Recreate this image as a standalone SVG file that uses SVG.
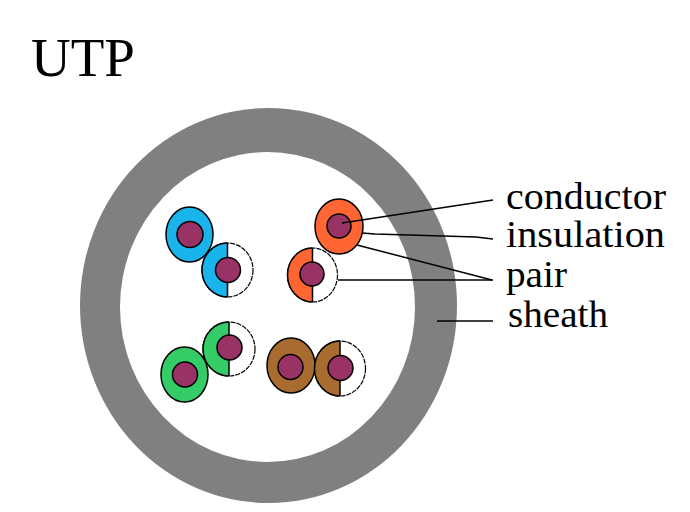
<svg xmlns="http://www.w3.org/2000/svg" width="690" height="512" viewBox="0 0 690 512">
  <style>
    .ins { stroke: #000; stroke-width: 1.5; }
    .white { fill: #fff; stroke: #000; stroke-width: 1.2; stroke-dasharray: 5 1; }
    .half { stroke: none; }
    .split { stroke: #000; stroke-width: 1.5; }
    .cond { fill: #993366; stroke: #000; stroke-width: 1.5; }
    .blue { fill: #1ab4ec; }
    .orange { fill: #ff6633; }
    .green { fill: #33cc66; }
    .brown { fill: #a86c30; }
    .lead { fill: none; stroke: #000; stroke-width: 1.5; }
    .lbl { font-family: "Liberation Serif", "Times New Roman", serif; font-size: 38px; fill: #000; }
  </style>
  <rect width="690" height="512" fill="#fff"/>
  <text class="lbl" x="31" y="76" style="font-size:55px">UTP</text>

  <g id="sheath">
    <ellipse cx="268.5" cy="305.5" rx="188.5" ry="197.5" fill="#808080"/>
    <ellipse cx="267.5" cy="307" rx="147.5" ry="155" fill="#fff"/>
  </g>

  <g id="blue-solid">
    <ellipse class="ins blue" cx="189.5" cy="234.5" rx="23.5" ry="27.5"/>
    <circle class="cond" cx="190" cy="234.5" r="13"/>
  </g>
  <g id="blue-striped">
    <ellipse class="white" cx="227.5" cy="270" rx="25.5" ry="27"/>
    <path class="half blue" d="M227.5,243 A25.5,27 0 0 0 227.5,297 Z"/>
    <path class="lead" d="M202,270 A25.5,27 0 0 1 227.5,243 M202,270 A25.5,27 0 0 0 227.5,297"/>
    <line class="split" x1="227.5" y1="243" x2="227.5" y2="297"/>
    <circle class="cond" cx="228" cy="270" r="12.5"/>
  </g>

  <g id="orange-solid">
    <ellipse class="ins orange" cx="339" cy="226.5" rx="24" ry="27.5"/>
    <circle class="cond" cx="339" cy="226" r="12"/>
  </g>
  <g id="orange-striped">
    <ellipse class="white" cx="312.5" cy="275" rx="25" ry="27"/>
    <path class="half orange" d="M312.5,248 A25,27 0 0 0 312.5,302 Z"/>
    <path class="lead" d="M287.5,275 A25,27 0 0 1 312.5,248 M287.5,275 A25,27 0 0 0 312.5,302"/>
    <line class="split" x1="312.5" y1="248" x2="312.5" y2="302"/>
    <circle class="cond" cx="312" cy="274" r="12"/>
  </g>

  <g id="green-striped">
    <ellipse class="white" cx="229" cy="349" rx="26" ry="27"/>
    <path class="half green" d="M229,322 A26,27 0 0 0 229,376 Z"/>
    <path class="lead" d="M203,349 A26,27 0 0 1 229,322 M203,349 A26,27 0 0 0 229,376"/>
    <line class="split" x1="229" y1="322" x2="229" y2="376"/>
    <circle class="cond" cx="229.5" cy="347.5" r="12.5"/>
  </g>
  <g id="green-solid">
    <ellipse class="ins green" cx="184.5" cy="374.5" rx="23.5" ry="27.5"/>
    <circle class="cond" cx="185" cy="374.5" r="12.5"/>
  </g>

  <g id="brown-solid">
    <ellipse class="ins brown" cx="291" cy="365.5" rx="24" ry="27.5"/>
    <circle class="cond" cx="290.5" cy="367" r="12.5"/>
  </g>
  <g id="brown-striped">
    <ellipse class="white" cx="340" cy="368.5" rx="25.5" ry="27.5"/>
    <path class="half brown" d="M340,341 A25.5,27.5 0 0 0 340,396 Z"/>
    <path class="lead" d="M314.5,368.5 A25.5,27.5 0 0 1 340,341 M314.5,368.5 A25.5,27.5 0 0 0 340,396"/>
    <line class="split" x1="340" y1="341" x2="340" y2="396"/>
    <circle class="cond" cx="340.5" cy="368" r="12.5"/>
  </g>

  <g id="connectors">
    <line class="lead" x1="342" y1="223" x2="493" y2="200"/>
    <polyline class="lead" points="362,233 375,234 476,237 493,239"/>
    <line class="lead" x1="357" y1="245" x2="492" y2="280"/>
    <line class="lead" x1="338" y1="280" x2="493" y2="280"/>
    <line class="lead" x1="437" y1="321" x2="493" y2="321"/>
  </g>

  <g id="labels">
    <text class="lbl" x="506" y="209" textLength="160" lengthAdjust="spacingAndGlyphs">conductor</text>
    <text class="lbl" x="506" y="247" textLength="159" lengthAdjust="spacingAndGlyphs">insulation</text>
    <text class="lbl" x="506" y="287" textLength="61" lengthAdjust="spacingAndGlyphs">pair</text>
    <text class="lbl" x="508" y="327" textLength="100" lengthAdjust="spacingAndGlyphs">sheath</text>
  </g>
</svg>
